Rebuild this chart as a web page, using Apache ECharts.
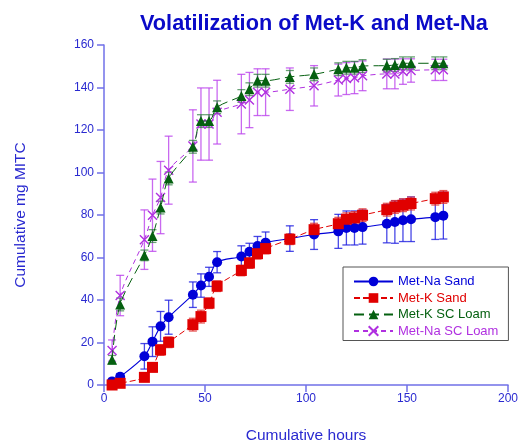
<!DOCTYPE html>
<html>
<head>
<meta charset="utf-8">
<script src="https://cdn.jsdelivr.net/npm/echarts@6/dist/echarts.min.js"></script>
<style>
  html, body { margin: 0; padding: 0; background: #fff; }
  #chart { width: 520px; height: 443px; }
</style>
</head>
<body>
<div id="chart"></div>
<script>
// sampling times (hours)
const hours = [4, 8, 20, 24, 28, 32, 44, 48, 52, 56, 68, 72, 76, 80, 92, 104, 116, 120, 124, 128, 140, 144, 148, 152, 164, 168];

// cumulative mg MITC
const naSand = [1.7, 3.9, 13.5, 20.4, 27.6, 31.9, 42.5, 46.8, 50.9, 57.8, 60.5, 62.7, 65.4, 67.0, 68.9, 70.8, 72.3, 73.9, 73.9, 74.3, 75.9, 76.7, 77.5, 78.0, 79.0, 79.7];
const naSandErr = [1, 1.5, 6, 7, 7, 8, 6, 5.5, 4.5, 5, 5, 4, 4.5, 5, 6, 7, 8, 8, 8, 8, 9, 10, 10, 10.5, 10.5, 11];

const kSand = [0, 0.8, 3.6, 8.3, 16.5, 20.1, 28.4, 32.2, 38.5, 46.5, 53.9, 57.4, 61.8, 64.2, 68.6, 73.1, 75.9, 78.0, 78.6, 79.9, 82.5, 83.8, 84.6, 85.4, 87.7, 88.5];
const kSandErr = [0.5, 0.5, 1.5, 2, 2.5, 2.5, 3, 3, 2.5, 2.5, 2.5, 2.5, 2.5, 2.5, 2.5, 3, 3, 3, 3, 3, 3, 3, 3, 3, 3, 3];

const kLoam = [11.9, 37.9, 61.0, 70.1, 83.5, 97.2, 112.1, 124.2, 124.2, 130.7, 136.0, 139.2, 143.2, 143.2, 145.0, 146.2, 148.6, 149.3, 149.3, 150.1, 150.3, 150.6, 151.4, 151.4, 151.4, 151.4];
const kLoamErr = [2, 3, 2.5, 3, 3, 3, 3, 3, 3, 3, 3, 3, 3, 3, 3, 3, 3, 3, 3, 3, 3, 3, 3, 3, 3, 3];

const naLoam = [16.2, 42.1, 68.4, 79.9, 88.2, 101.1, 112.5, 122.8, 122.8, 128.4, 132.2, 134.1, 137.8, 137.8, 139.2, 140.8, 143.5, 144.2, 144.6, 145.5, 146.4, 146.4, 147.5, 148.0, 148.3, 148.3];
const naLoamErr = [5, 9.5, 14, 17, 17, 16, 17, 17, 17, 15, 14, 13, 11, 11, 10, 9.5, 7.5, 7.5, 7.5, 7, 7, 7, 6, 5.5, 5, 5];

const BLUE = '#0000d8';
const RED = '#e00000';
const GREEN = '#056010';
const PURPLE = '#b030e0';
const AXIS = '#7070e8';
const TEXT = '#2a2ad0';
const FONT = '"Liberation Sans", Arial, sans-serif';

const chart = echarts.init(document.getElementById('chart'));

// vertical error bars with small caps
const errorBars = (vals, errs, color, opacity) => ({
  type: 'custom',
  silent: true,
  z: 1,
  data: hours.map((h, i) => [h, vals[i] - errs[i], vals[i] + errs[i]]),
  encode: { x: 0, y: [1, 2] },
  renderItem: (params, api) => {
    const x = api.value(0);
    const lo = api.coord([x, api.value(1)]);
    const hi = api.coord([x, api.value(2)]);
    const w = 4;
    const style = { stroke: color, lineWidth: 1.3, opacity: opacity };
    return {
      type: 'group',
      children: [
        { type: 'line', shape: { x1: lo[0], y1: lo[1], x2: hi[0], y2: hi[1] }, style },
        { type: 'line', shape: { x1: hi[0] - w, y1: hi[1], x2: hi[0] + w, y2: hi[1] }, style },
        { type: 'line', shape: { x1: lo[0] - w, y1: lo[1], x2: lo[0] + w, y2: lo[1] }, style }
      ]
    };
  }
});

const pts = vals => hours.map((h, i) => [h, vals[i]]);

const option = {
  animation: false,
  textStyle: { fontFamily: FONT },
  title: {
    text: 'Volatilization of Met-K and Met-Na',
    left: 135,
    top: 8,
    textStyle: { color: '#0a0ac8', fontSize: 21.7, fontWeight: 'bold', fontFamily: FONT }
  },
  grid: { left: 104, right: 12, top: 45, bottom: 58, outerBoundsMode: 'none', containLabel: false },
  legend: {
    orient: 'vertical',
    left: 343,
    top: 267,
    padding: [8, 10, 3, 10],
    itemWidth: 39,
    itemHeight: 12,
    itemGap: 3.5,
    borderColor: '#555',
    borderWidth: 1,
    textStyle: { fontSize: 13, fontFamily: FONT },
    data: [
      { name: 'Met-Na Sand', textStyle: { color: BLUE } },
      { name: 'Met-K Sand', textStyle: { color: RED } },
      { name: 'Met-K SC Loam', textStyle: { color: GREEN } },
      { name: 'Met-Na SC Loam', textStyle: { color: PURPLE } }
    ]
  },
  xAxis: {
    type: 'value',
    min: 0, max: 200, interval: 50,
    name: 'Cumulative hours',
    nameLocation: 'middle',
    nameGap: 43,
    nameTextStyle: { color: TEXT, fontSize: 15.5 },
    axisLine: { lineStyle: { color: AXIS, width: 1.5 } },
    axisTick: { length: 7, lineStyle: { color: AXIS, width: 1.5 } },
    axisLabel: { color: TEXT, fontSize: 12, margin: 8 },
    splitLine: { show: false }
  },
  yAxis: {
    type: 'value',
    min: 0, max: 160, interval: 20,
    name: 'Cumulative mg MITC',
    nameLocation: 'middle',
    nameGap: 75,
    nameTextStyle: { color: TEXT, fontSize: 15.5 },
    axisLine: { show: true, lineStyle: { color: AXIS, width: 1.5 } },
    axisTick: { show: true, length: 7, lineStyle: { color: AXIS, width: 1.5 } },
    axisLabel: { color: TEXT, fontSize: 12, margin: 10 },
    splitLine: { show: false }
  },
  series: [
    errorBars(naLoam, naLoamErr, '#bc44ec', 0.8),
    errorBars(kLoam, kLoamErr, '#2a7a3a', 0.7),
    errorBars(naSand, naSandErr, '#1a1ae0', 0.8),
    errorBars(kSand, kSandErr, '#e03030', 0.8),
    {
      name: 'Met-Na SC Loam',
      type: 'line',
      z: 3,
      data: pts(naLoam),
      smooth: 0.3,
      symbol: 'path://M0,0L10,10M10,0L0,10',
      symbolSize: 9,
      itemStyle: { color: 'rgba(0,0,0,0)', borderColor: PURPLE, borderWidth: 1.4 },
      lineStyle: { color: PURPLE, width: 1, type: [5, 4] }
    },
    {
      name: 'Met-K SC Loam',
      type: 'line',
      z: 4,
      data: pts(kLoam),
      smooth: 0.3,
      symbol: 'triangle',
      symbolSize: 10,
      itemStyle: { color: GREEN, borderWidth: 0 },
      lineStyle: { color: GREEN, width: 1, type: [10, 5] }
    },
    {
      name: 'Met-Na Sand',
      type: 'line',
      z: 5,
      data: pts(naSand),
      smooth: 0.3,
      symbol: 'circle',
      symbolSize: 10,
      itemStyle: { color: BLUE, borderWidth: 0 },
      lineStyle: { color: BLUE, width: 1.1 }
    },
    {
      name: 'Met-K Sand',
      type: 'line',
      z: 6,
      data: pts(kSand),
      smooth: 0.3,
      symbol: 'rect',
      symbolSize: 11,
      itemStyle: { color: RED, borderWidth: 0 },
      lineStyle: { color: RED, width: 1, type: [6, 3] }
    }
  ]
};

chart.setOption(option);
</script>
</body>
</html>
